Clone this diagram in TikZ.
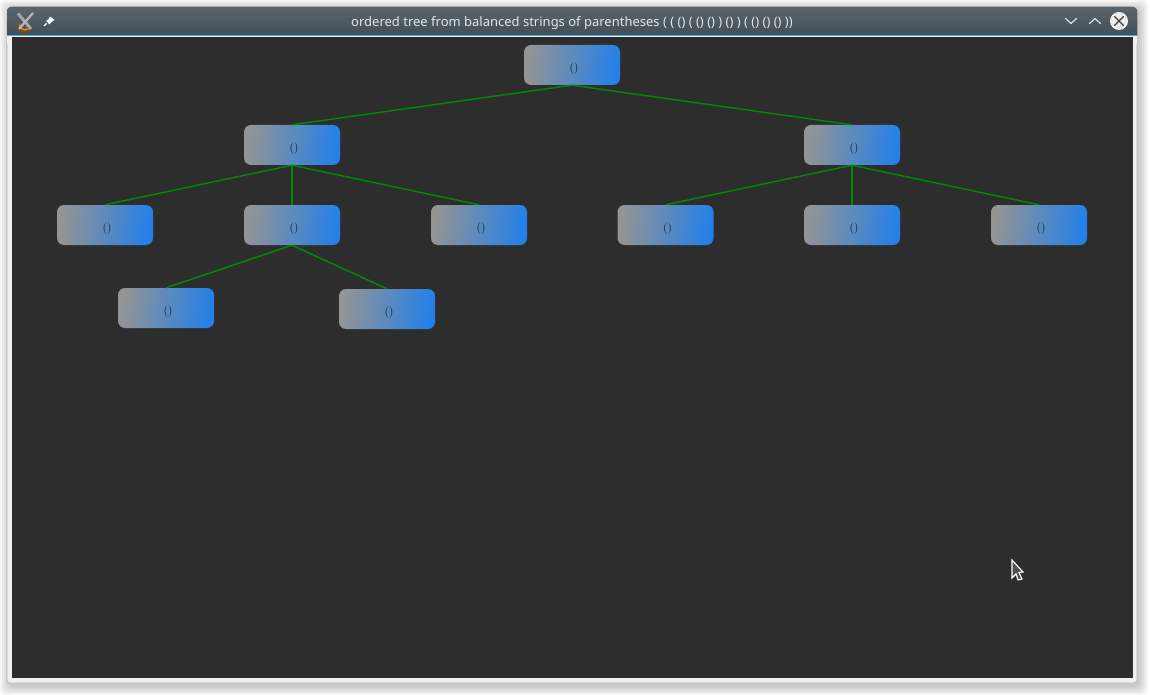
\documentclass[tikz,border=0pt]{standalone}
\usepackage{fontspec}
\newfontfamily\titlefont{Noto Sans}
\definecolor{canvasbg}{HTML}{2D2D2D}
\definecolor{framecol}{HTML}{EFF0F1}
\definecolor{bartop}{HTML}{5A656D}
\definecolor{barbot}{HTML}{3F4A52}
\definecolor{boxgray}{HTML}{949494}
\definecolor{boxblue}{HTML}{2480E8}
\definecolor{edgegreen}{HTML}{008C00}
\definecolor{accent}{HTML}{3DAEE9}
\definecolor{labelcol}{HTML}{101A26}
\tikzset{
  treebox/.style={rectangle,draw=none,inner sep=0pt,minimum width=96pt,minimum height=40pt,rounded corners=7pt,
    left color=boxgray,right color=boxblue,shading angle=82,
    label={[label distance=0pt,text=labelcol,font=\fontsize{11.5}{13}\selectfont,inner sep=0pt,xshift=2pt,yshift=-3.4pt]center:()}},
  treeedge/.style={draw=edgegreen,line width=1.4pt},
  winbtn/.style={draw=white!88!black,line width=1.2pt,line cap=round,line join=round}
}
\begin{document}
\begin{tikzpicture}[x=1pt,y=-1pt]
\useasboundingbox (0,0) rectangle (1150,695);
\fill[white] (0,0) rectangle (1150,695);
% soft window shadow
\foreach \d in {10,8,...,2}{
  \fill[black,opacity=0.045,rounded corners=6pt] (7-\d+3,7-\d+3) rectangle (1137+\d+1,683+\d+2);
}
% window frame
\fill[framecol,rounded corners=3pt] (7,20) rectangle (1137,683);
\draw[black!30,line width=0.6pt,rounded corners=3pt] (7,20) -- (7,683) -- (1137,683) -- (1137,20);
% title bar
\fill[top color=bartop,bottom color=barbot,rounded corners=4pt] (7,7) rectangle (1137,40);
\fill[framecol] (7.3,36) rectangle (1136.7,44);
\fill[accent] (7,35) rectangle (1137,36.2);
\fill[canvasbg] (12,37) rectangle (1132.6,677.6);
\node[inner sep=0pt,text=white!90!black,font=\titlefont\fontsize{13}{15}\selectfont] (wintitle) at (572,23)
  {ordered tree from balanced strings of parentheses ( ( () ( () () ) () ) ( () () () ))};
% app icon
\draw[black!45!orange,line width=1.6pt] (17.5,25) arc[start angle=180,end angle=330,radius=7.5pt];
\draw[orange!90!yellow,line width=1.2pt] (19.5,24.5) arc[start angle=180,end angle=310,radius=5.5pt];
\draw[gray!70!white,line width=3pt] (18,13.5) -- (31,29);
\draw[gray!55!white,line width=2.2pt] (33,13) -- (19,29);
% pin icon
\fill[white] (50,16.5) -- (54.5,20) -- (51.5,22) -- (49.5,24.5) -- (46,21) -- (48.5,19.5) -- cycle;
\draw[white,line width=1.1pt] (46.5,23.5) -- (44,26);
% window buttons
\draw[winbtn] (1065.5,18.5) -- (1071,23.5) -- (1076.5,18.5);
\draw[winbtn] (1089.5,23.5) -- (1095,18.5) -- (1100.5,23.5);
\fill[white!93!black] (1119,21) circle (9pt);
\draw[line width=1.3pt,draw=black!75,line cap=round] (1114.5,16.5) -- (1123.5,25.5) (1123.5,16.5) -- (1114.5,25.5);
% tree
\node[treebox] (root) at (572,65) {};
\node[treebox] (l) at (292,145) {};
\node[treebox] (r) at (852,145) {};
\node[treebox] (la) at (105,225) {};
\node[treebox] (lb) at (292,225) {};
\node[treebox] (lc) at (479,225) {};
\node[treebox] (ra) at (665.5,225) {};
\node[treebox] (rb) at (852,225) {};
\node[treebox] (rc) at (1039,225) {};
\node[treebox] (lba) at (166,308) {};
\node[treebox] (lbb) at (387,309) {};
\foreach \p/\c in {root/l,root/r,l/la,l/lb,l/lc,r/ra,r/rb,r/rc,lb/lba,lb/lbb}{
  \draw[treeedge] (\p.south) -- (\c.north);
}
% mouse cursor
\draw[white,fill=black!68,line width=1.1pt,line join=miter] (1012,560) -- (1023,572) -- (1019,572.5) -- (1022,579) -- (1018,580) -- (1016,574) -- (1012,578) -- cycle;
\end{tikzpicture}
\end{document}
